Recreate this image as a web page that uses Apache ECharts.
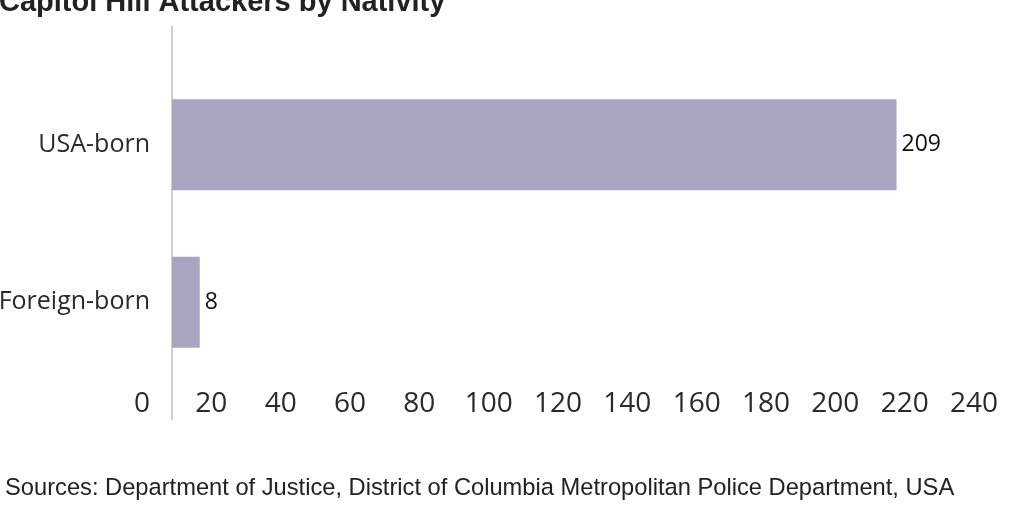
<!DOCTYPE html>
<html style="height: 100%">
<head>
<meta charset="utf-8">
<script src="https://cdn.jsdelivr.net/npm/echarts@6/dist/echarts.min.js"></script>
</head>
<body style="height: 100%; margin: 0; background: #fff">
<div id="container" style="width: 1024px; height: 512px"></div>
<script type="text/javascript">
// data
var categories = ['Foreign-born', 'USA-born'];
var attackers = [8, 209];
var titleText = 'Capitol Hill Attackers by Nativity';
var sourceText = 'Sources: Department of Justice, District of Columbia Metropolitan Police Department, USA';

var myChart = echarts.init(document.getElementById('container'));

var option = {
    animation: false,
    title: [{
        text: titleText,
        left: -1,
        top: -12,
        padding: 0,
        textStyle: { fontFamily: 'Liberation Sans', fontWeight: 'bold', fontSize: 29, color: '#222' }
    }, {
        text: sourceText,
        left: 5,
        top: 476,
        padding: 0,
        textStyle: { fontFamily: 'Liberation Sans', fontWeight: 'normal', fontSize: 23.7, color: '#222' }
    }],
    // the category labels sit right against the left edge, so no auto shrink of the grid
    grid: { left: 172, right: 20, top: 66, bottom: 131, containLabel: false, outerBoundsMode: 'none' },
    xAxis: {
        type: 'value',
        min: 0,
        max: 240,
        interval: 20,
        splitLine: { show: false },
        axisLine: { show: false },
        axisTick: { show: false },
        axisLabel: {
            margin: 9,
            fontFamily: 'Open Sans',
            fontSize: 28,
            color: '#2a2a2a',
            padding: [0, 60, 0, 0]
        }
    },
    yAxis: {
        type: 'category',
        data: categories,
        axisLine: { show: false },
        axisTick: { show: false },
        axisLabel: { margin: 22, fontFamily: 'Open Sans', fontSize: 25, color: '#2a2a2a' }
    },
    series: [{
        type: 'bar',
        data: attackers,
        barWidth: 91,
        itemStyle: { color: '#a9a5c0' },
        label: {
            show: true,
            position: 'right',
            distance: 5,
            fontFamily: 'Open Sans',
            fontSize: 23,
            color: '#111'
        }
    }],
    graphic: [{
        type: 'line',
        shape: { x1: 172, y1: 26, x2: 172, y2: 420 },
        style: { stroke: '#d0d0d0', lineWidth: 2 }
    }]
};

myChart.setOption(option);
</script>
</body>
</html>
